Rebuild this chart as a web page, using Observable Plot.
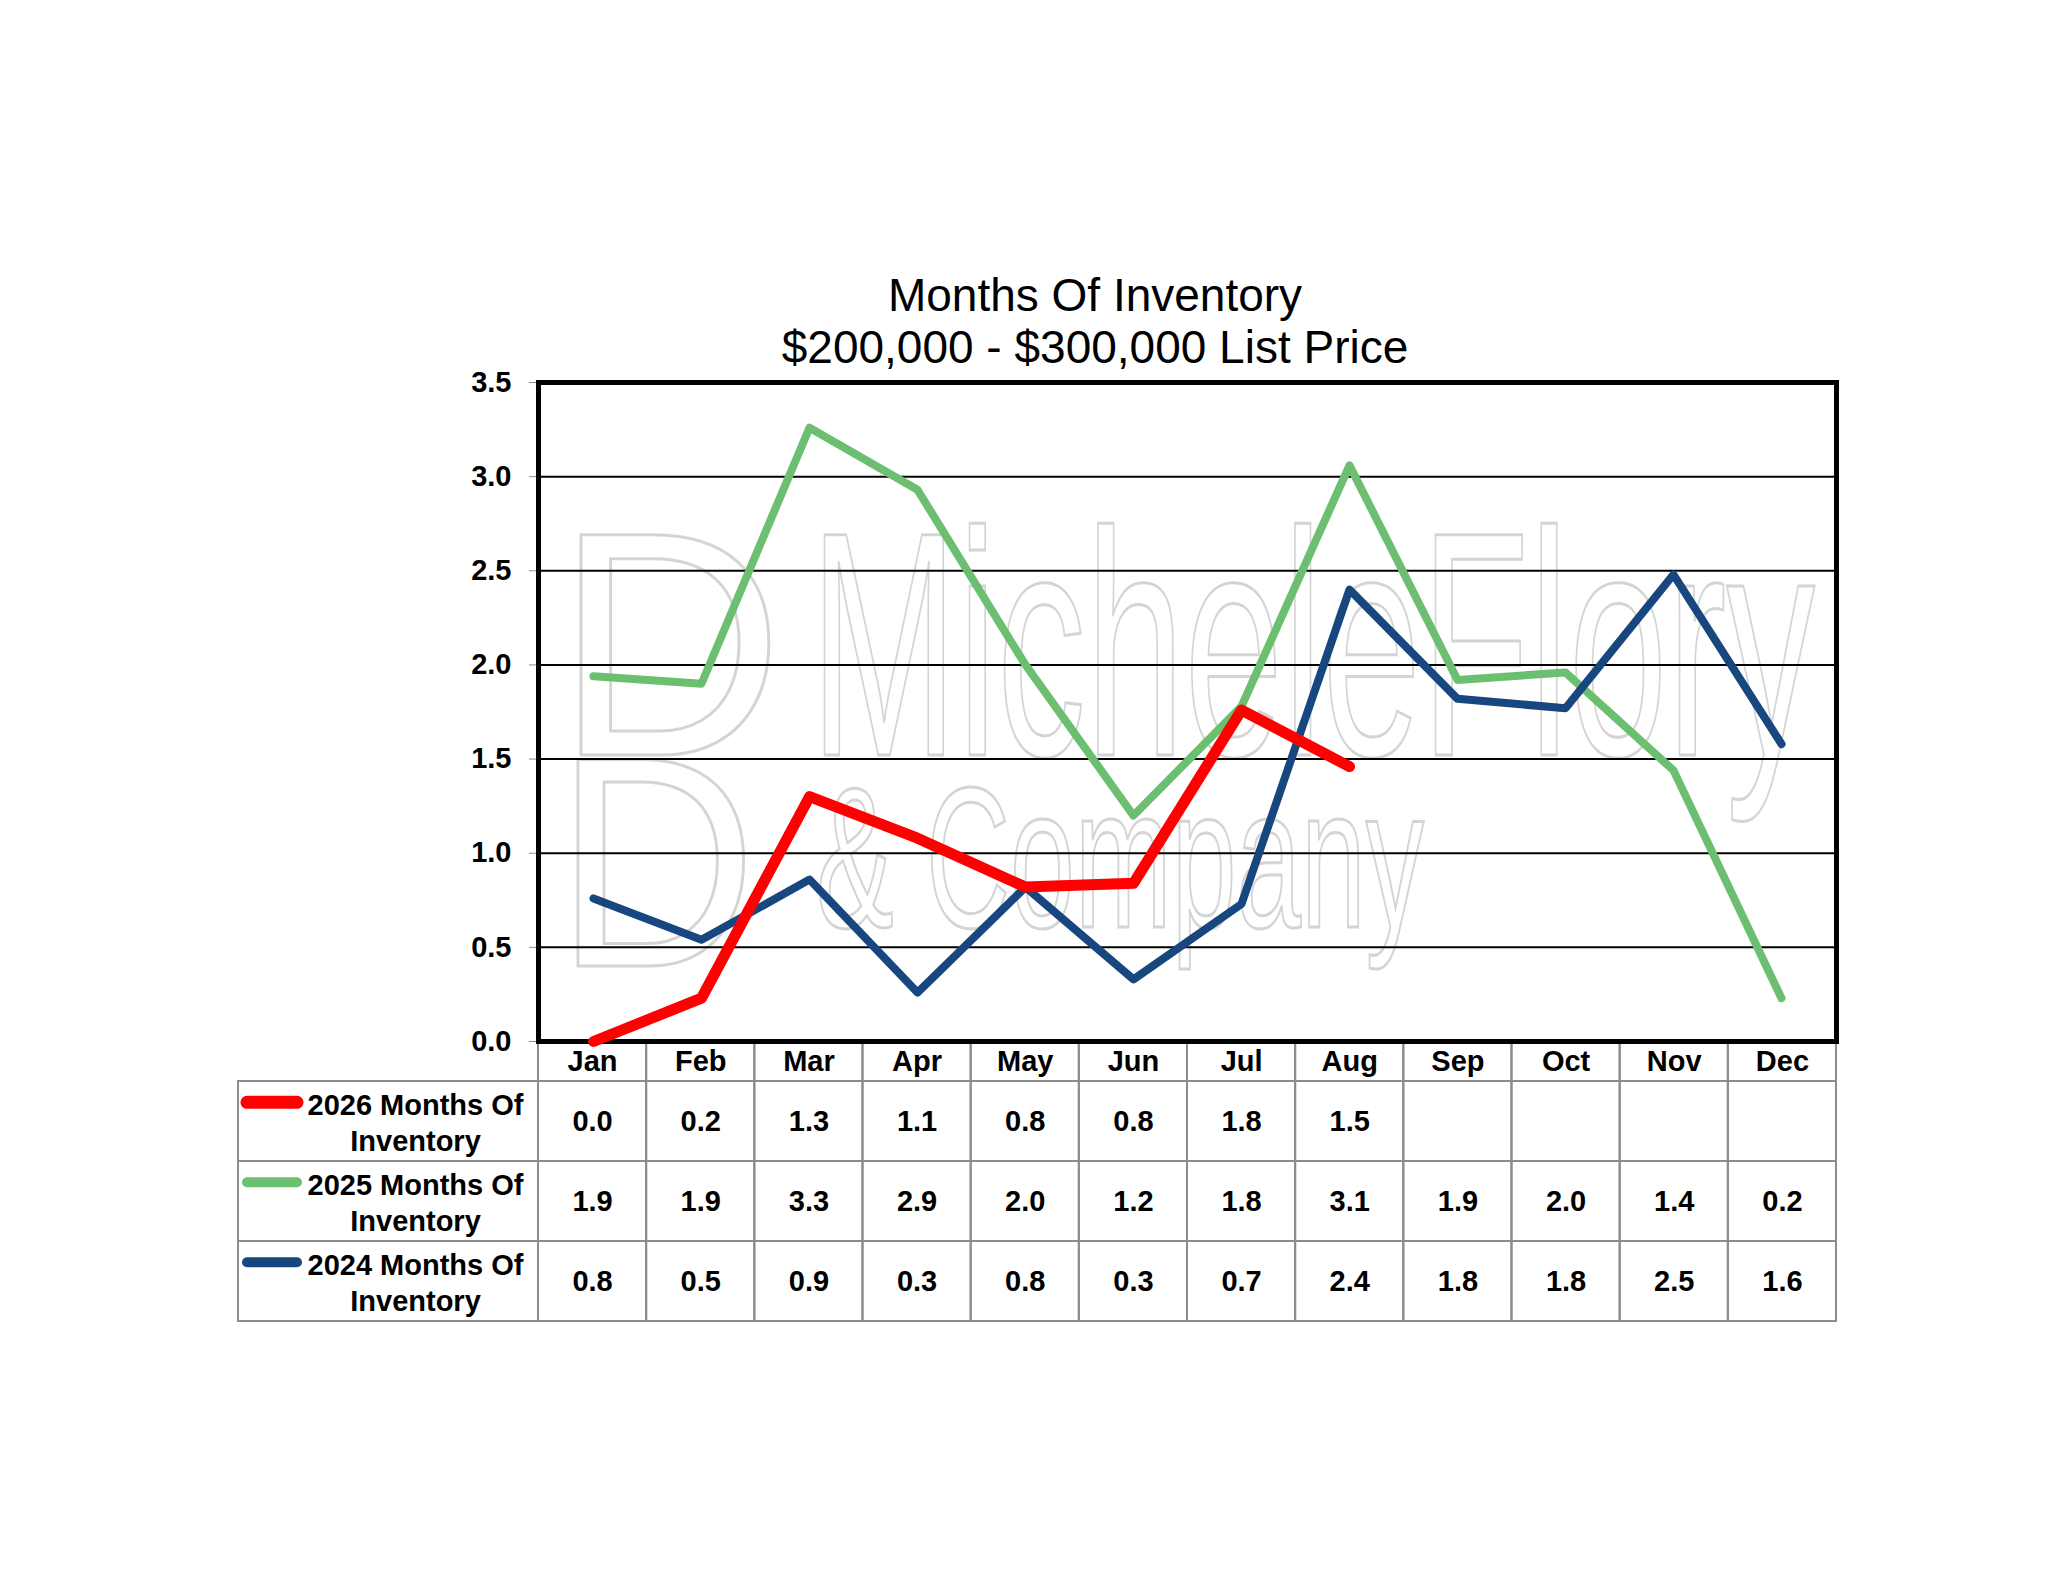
<!DOCTYPE html>
<html>
<head>
<meta charset="utf-8">
<script src="https://cdn.jsdelivr.net/npm/d3@7"></script>
<script src="https://cdn.jsdelivr.net/npm/@observablehq/plot@0.6"></script>
<style>
  html, body { margin: 0; padding: 0; background: #fff; }
  body { width: 2048px; height: 1583px; position: relative; overflow: hidden; font-family: "Liberation Sans", Arial, sans-serif; }
  #title { position: absolute; top: 269px; left: 0; width: 2190px; text-align: center; font-size: 46px; line-height: 52px; color: #000; }
  #chart, #table { position: absolute; left: 0; }
  #chart { top: 0; }
  #table { top: 1036px; }
</style>
</head>
<body>
<div id="table"></div>
<div id="chart"></div>
<div id="title"></div>
<script>
// ---- data ----
const months = ["Jan", "Feb", "Mar", "Apr", "May", "Jun", "Jul", "Aug", "Sep", "Oct", "Nov", "Dec"];
const values2026 = [0.00, 0.23, 1.30, 1.08, 0.82, 0.84, 1.76, 1.46];
const values2025 = [1.94, 1.90, 3.26, 2.93, 2.00, 1.20, 1.78, 3.06, 1.92, 1.96, 1.44, 0.23];
const values2024 = [0.76, 0.54, 0.86, 0.26, 0.82, 0.33, 0.73, 2.40, 1.82, 1.77, 2.48, 1.58];
const seriesNames = ["2026 Months Of Inventory", "2025 Months Of Inventory", "2024 Months Of Inventory"];
const seriesColors = ["#ff0000", "#6cbf70", "#17477e"];
const yTicks = [0, 0.5, 1.0, 1.5, 2.0, 2.5, 3.0, 3.5];
const titleLines = ["Months Of Inventory", "$200,000 - $300,000 List Price"];

const fmt = d3.format(".1f");
const FONT = "'Liberation Sans', Arial, sans-serif";
const seriesValues = [values2026, values2025, values2024];
const seriesWidths = [11, 8, 8];

// ---- title ----
const titleDiv = document.getElementById("title");
titleLines.forEach(t => { const d = document.createElement("div"); d.textContent = t; titleDiv.appendChild(d); });

// ---- chart ----
const lineMark = (k) => Plot.lineY(seriesValues[k], {
  x: months.slice(0, seriesValues[k].length),
  y: seriesValues[k],
  stroke: seriesColors[k],
  strokeWidth: seriesWidths[k],
  strokeLinejoin: "round",
  strokeLinecap: "round"
});

const chart = Plot.plot({
  width: 2048,
  height: 1050,
  marginTop: 382,
  marginBottom: 9,
  marginLeft: 538,
  marginRight: 212,
  style: { background: "transparent", overflow: "visible", fontFamily: FONT, fontSize: "29px", fontWeight: "bold", color: "#000" },
  x: { type: "point", domain: months, padding: 0.5, axis: null },
  y: { domain: [0, 3.5], axis: null },
  marks: [
    Plot.ruleY(yTicks.filter(v => v > 0 && v < 3.5), { stroke: "#000", strokeWidth: 2 }),
    Plot.axisY({ ticks: yTicks, tickFormat: fmt, tickSize: 9, tickPadding: 18, stroke: "#8c8c8c", fill: "#000", fontSize: 29, fontWeight: "bold" }),
    Plot.frame({ stroke: "#000", strokeWidth: 5 }),
    lineMark(1),
    lineMark(2),
    lineMark(0)
  ]
});
document.getElementById("chart").appendChild(chart);

// faint outlined watermark behind the marks (decoration only)
const wm = d3.select(chart).insert("g", "g")
  .attr("fill", "none").attr("stroke", "#d4d4d4").attr("stroke-width", 3)
  .attr("font-family", FONT).attr("font-weight", "normal").attr("text-anchor", "start");
const wmText = (txt, x, y, size, len) => wm.append("text")
  .attr("x", x).attr("y", y).attr("font-size", size)
  .attr("textLength", len).attr("lengthAdjust", "spacingAndGlyphs").text(txt);
wmText("MicheleFlory", 810, 755, 320, 1005);
wmText("& Company", 816, 927, 200, 608);
wmText("D", 555, 755, 320, 229);
wmText("D", 555, 966, 300, 202);

// ---- data table ----
const LABEL_UNITS = 300 / 108.17;
const HEADER = 0.5;
const rows = seriesNames.map((name, i) => ({
  name, color: seriesColors[i], width: seriesWidths[i], values: seriesValues[i],
  top: HEADER + i, bottom: HEADER + i + 1
}));

const cells = [];
months.forEach((m, i) => {
  cells.push({ x1: i, x2: i + 1, y1: 0, y2: HEADER });
  rows.forEach(r => cells.push({ x1: i, x2: i + 1, y1: r.top, y2: r.bottom }));
});
rows.forEach(r => cells.push({ x1: -LABEL_UNITS, x2: 0, y1: r.top, y2: r.bottom }));

const valueCells = rows.flatMap(r => r.values.map((v, i) => ({ x: i + 0.5, y: (r.top + r.bottom) / 2, text: fmt(v) })));

const table = Plot.plot({
  width: 2048,
  height: 290,
  marginTop: 5,
  marginBottom: 5,
  marginLeft: 238,
  marginRight: 212,
  style: { background: "transparent", overflow: "visible", fontFamily: FONT, color: "#000" },
  x: { type: "linear", domain: [-LABEL_UNITS, months.length], axis: null },
  y: { type: "linear", domain: [0, HEADER + rows.length], reverse: true, axis: null },
  marks: [
    Plot.rect(cells, { x1: "x1", x2: "x2", y1: "y1", y2: "y2", fill: "none", stroke: "#8c8c8c", strokeWidth: 2 }),
    Plot.text(months, { x: (d, i) => i + 0.5, y: HEADER / 2, text: d => d, fontSize: 29, fontWeight: "bold", fill: "#000" }),
    Plot.text(valueCells, { x: "x", y: "y", text: "text", fontSize: 29, fontWeight: "bold", fill: "#000" }),
    Plot.text(rows, {
      x: -LABEL_UNITS / 2, y: r => (r.top + r.bottom) / 2, dx: 27,
      text: r => r.name.replace(" Inventory", "\nInventory"),
      lineHeight: 1.24, textAnchor: "middle", fontSize: 29, fontWeight: "bold", fill: "#000"
    }),
    Plot.ruleY(rows, {
      y: r => r.top + 0.26, x1: -LABEL_UNITS, x2: 0, insetLeft: 9, insetRight: 241,
      stroke: "color", strokeWidth: r => r.width + 2, strokeLinecap: "round"
    })
  ]
});
document.getElementById("table").appendChild(table);
</script>
</body>
</html>
